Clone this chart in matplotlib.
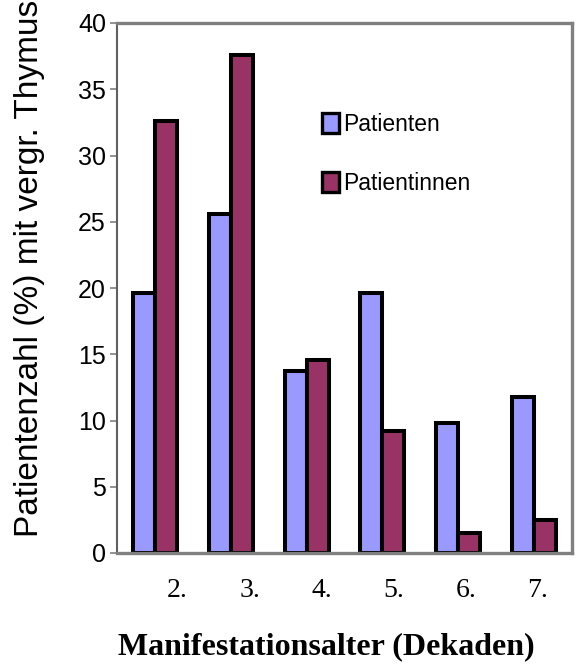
import matplotlib
matplotlib.use("Agg")
import matplotlib.pyplot as plt
import numpy as np

decades = ["2.", "3.", "4.", "5.", "6.", "7."]
patienten = [19.6, 25.6, 13.7, 19.6, 9.8, 11.8]
patientinnen = [32.6, 37.6, 14.6, 9.2, 1.5, 2.5]

fig = plt.figure(figsize=(5.81, 6.66), dpi=100)
ax = fig.add_axes([117 / 581, 1 - 553 / 666, 455 / 581, 530 / 666])

x = np.arange(len(decades))
w = 0.29
ax.bar(x - w / 2, patienten, w, color="#9999FF", edgecolor="black",
       linewidth=2.9, label="Patienten", zorder=3)
ax.bar(x + w / 2, patientinnen, w, color="#993366", edgecolor="black",
       linewidth=2.9, label="Patientinnen", zorder=3)

ax.set_xlim(-0.5, len(decades) - 0.5)
ax.set_ylim(0, 40)
ax.set_yticks(range(0, 41, 5))
ax.set_yticklabels([str(v) for v in range(0, 41, 5)],
                   family="Liberation Sans", fontsize=18)
ax.tick_params(axis="y", direction="out", length=5, width=1.2,
               color="#808080", pad=3)

# category labels sit a bit right of the bar groups, as in the original
ax.set_xticks(x * 0.95 + 0.3)
ax.set_xticklabels(decades, family="Liberation Serif", fontsize=20)
ax.tick_params(axis="x", length=0, pad=18)

for side in ["top", "right", "bottom"]:
    ax.spines[side].set_color("#808080")
    ax.spines[side].set_linewidth(2.4)
ax.spines["left"].set_color("#606060")
ax.spines["left"].set_linewidth(1.5)
ax.spines["bottom"].set_zorder(4)

fig.text(30 / 581, 1 - 537 / 666, "Patientenzahl (%) mit vergr. Thymus",
         rotation=90, ha="center", va="bottom",
         family="Liberation Sans", fontsize=24)
fig.text(326 / 581, 1 - 647 / 666, "Manifestationsalter (Dekaden)",
         ha="center", va="center", family="Liberation Serif",
         fontweight="bold", fontsize=23)

leg = ax.legend(loc="upper left", bbox_to_anchor=(0.45, 0.83), frameon=False,
                prop={"family": "Liberation Sans", "size": 16.5},
                handlelength=0.75, handleheight=0.95, handletextpad=0.2,
                labelspacing=1.55, borderpad=0, borderaxespad=0)
for h in leg.legend_handles:
    h.set_linewidth(2.4)

fig.savefig("out.png", dpi=100)
